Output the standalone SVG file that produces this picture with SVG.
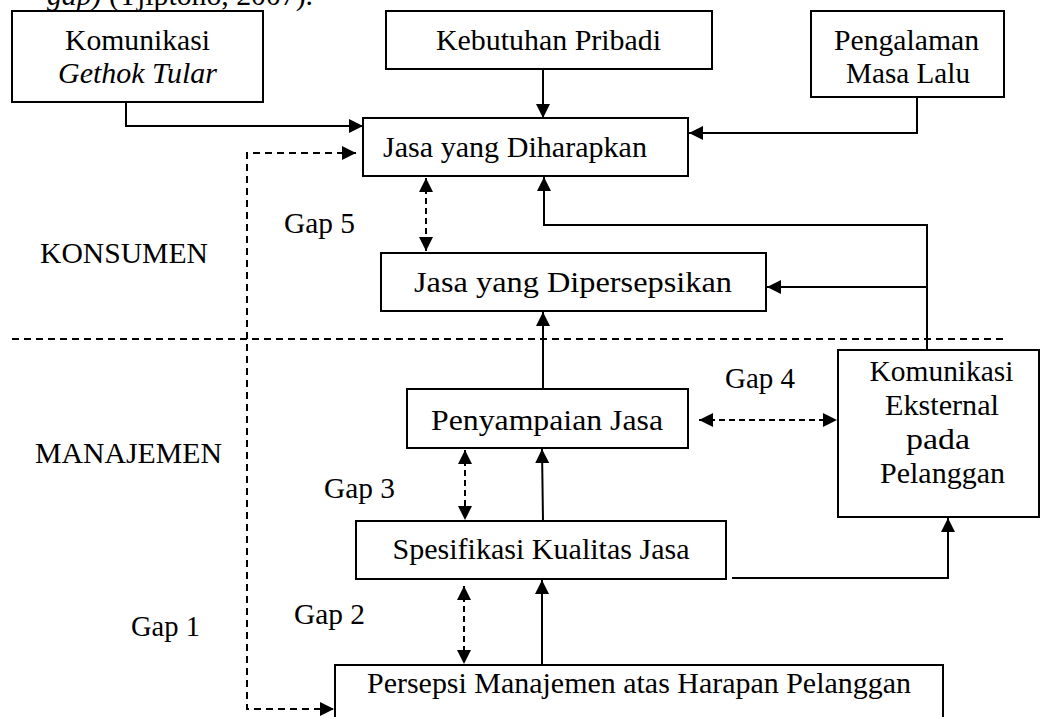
<svg xmlns="http://www.w3.org/2000/svg" width="1041" height="717" viewBox="0 0 1041 717">
<style>
  .box { fill: none; stroke: #000; stroke-width: 2; }
  text { font-family: 'Liberation Serif', 'Times New Roman', Times, serif; font-size: 29px; fill: #000; }
  .it { font-style: italic; }
  .ln { fill: none; stroke: #000; stroke-width: 2; }
  .dash { fill: none; stroke: #000; stroke-width: 2; stroke-dasharray: 7 5; }
  .sdash { fill: none; stroke: #000; stroke-width: 2; stroke-dasharray: 6 4; }
</style>
<defs>
  <marker id="arr" viewBox="0 0 14 14" refX="14" refY="7" markerWidth="14" markerHeight="14" markerUnits="userSpaceOnUse" orient="auto-start-reverse">
    <path d="M0,0 L14,7 L0,14 z" fill="#000"/>
  </marker>
</defs>
<rect width="1041" height="717" fill="#fff"/>

<text x="47" y="5" textLength="266" lengthAdjust="spacingAndGlyphs"><tspan class="it">gap)</tspan> (Tjiptono, 2007).</text>

<g id="komunikasi-gethok">
  <rect class="box" x="12" y="11" width="251" height="91"/>
  <text x="65" y="50" textLength="145" lengthAdjust="spacingAndGlyphs">Komunikasi</text>
  <text class="it" x="58" y="83" textLength="159" lengthAdjust="spacingAndGlyphs">Gethok Tular</text>
</g>
<g id="kebutuhan-pribadi">
  <rect class="box" x="386" y="11" width="326" height="58"/>
  <text x="436" y="50" textLength="225" lengthAdjust="spacingAndGlyphs">Kebutuhan Pribadi</text>
</g>
<g id="pengalaman">
  <rect class="box" x="811" y="11" width="193" height="86"/>
  <text x="834" y="50" textLength="145" lengthAdjust="spacingAndGlyphs">Pengalaman</text>
  <text x="846" y="83" textLength="124" lengthAdjust="spacingAndGlyphs">Masa Lalu</text>
</g>
<g id="jasa-diharapkan">
  <rect class="box" x="363" y="118" width="325" height="58"/>
  <text x="383" y="157" font-size="30" textLength="264" lengthAdjust="spacingAndGlyphs">Jasa yang Diharapkan</text>
</g>
<g id="jasa-dipersepsikan">
  <rect class="box" x="381" y="253" width="385" height="58"/>
  <text x="414" y="292" font-size="31" textLength="318" lengthAdjust="spacingAndGlyphs">Jasa yang Dipersepsikan</text>
</g>
<g id="penyampaian-jasa">
  <rect class="box" x="407" y="389" width="281" height="59"/>
  <text x="431" y="430" font-size="31" textLength="232" lengthAdjust="spacingAndGlyphs">Penyampaian Jasa</text>
</g>
<g id="komunikasi-eksternal">
  <rect class="box" x="838" y="350" width="201" height="167"/>
  <text x="869.5" y="381" textLength="144" lengthAdjust="spacingAndGlyphs">Komunikasi</text>
  <text x="885" y="415" textLength="114" lengthAdjust="spacingAndGlyphs">Eksternal</text>
  <text x="906" y="449" textLength="64" lengthAdjust="spacingAndGlyphs">pada</text>
  <text x="880" y="483" textLength="125" lengthAdjust="spacingAndGlyphs">Pelanggan</text>
</g>
<g id="spesifikasi">
  <rect class="box" x="356" y="521" width="370" height="58"/>
  <text x="392.5" y="559" textLength="297" lengthAdjust="spacingAndGlyphs">Spesifikasi Kualitas Jasa</text>
</g>
<g id="persepsi-manajemen">
  <path class="box" d="M335,717 V665 H943 V717"/>
  <text x="367" y="693" textLength="544" lengthAdjust="spacingAndGlyphs">Persepsi Manajemen atas Harapan Pelanggan</text>
</g>

<g id="labels">
  <text x="40" y="263" textLength="168" lengthAdjust="spacingAndGlyphs">KONSUMEN</text>
  <text x="35" y="463" textLength="187" lengthAdjust="spacingAndGlyphs">MANAJEMEN</text>
  <text x="284" y="233" textLength="71" lengthAdjust="spacingAndGlyphs">Gap 5</text>
  <text x="725" y="388" textLength="70" lengthAdjust="spacingAndGlyphs">Gap 4</text>
  <text x="324" y="498" textLength="71" lengthAdjust="spacingAndGlyphs">Gap 3</text>
  <text x="294" y="624" textLength="71" lengthAdjust="spacingAndGlyphs">Gap 2</text>
  <text x="131" y="636" textLength="69" lengthAdjust="spacingAndGlyphs">Gap 1</text>
</g>

<g id="connectors">
  <path class="dash" d="M12,339 H1006" stroke-dasharray="8 5"/>
  <path class="ln" d="M126,102 V126 H363" marker-end="url(#arr)"/>
  <path class="ln" d="M543,69 V118" marker-end="url(#arr)"/>
  <path class="ln" d="M917,97 V133 H689" marker-end="url(#arr)"/>
  <path class="dash" d="M356,153 H247 V709 H334" marker-start="url(#arr)" marker-end="url(#arr)"/>
  <path class="sdash" d="M426,178 V251" marker-start="url(#arr)" marker-end="url(#arr)"/>
  <path class="ln" d="M927,350 V225 H544 V177" marker-end="url(#arr)"/>
  <path class="ln" d="M927,287 H767" marker-end="url(#arr)"/>
  <path class="ln" d="M543,389 V312" marker-end="url(#arr)"/>
  <path class="sdash" d="M699,420 H837" marker-start="url(#arr)" marker-end="url(#arr)"/>
  <path class="sdash" d="M465,450 V520" marker-start="url(#arr)" marker-end="url(#arr)"/>
  <path class="ln" d="M543,521 L542,449" marker-end="url(#arr)"/>
  <path class="ln" d="M732,578 H948 V518" marker-end="url(#arr)"/>
  <path class="sdash" d="M464,586 V664" marker-start="url(#arr)" marker-end="url(#arr)"/>
  <path class="ln" d="M542,665 V580" marker-end="url(#arr)"/>
</g>
</svg>
